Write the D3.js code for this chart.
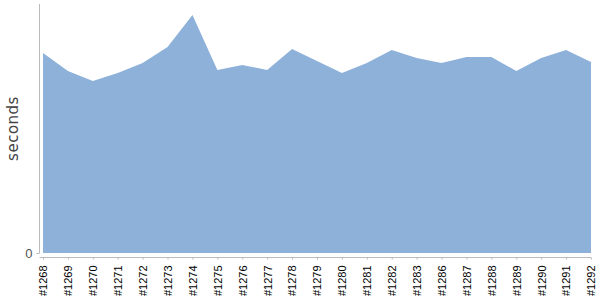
<!DOCTYPE html>
<html>
<head>
<meta charset="utf-8">
<script src="https://cdn.jsdelivr.net/npm/d3@7"></script>
<style>
  body { margin: 0; background: #fff; }
</style>
</head>
<body>
<div id="chart"></div>
<script>
// build labels
const builds = ["#1268", "#1269", "#1270", "#1271", "#1272", "#1273", "#1274", "#1275",
  "#1276", "#1277", "#1278", "#1279", "#1280", "#1281", "#1282", "#1283",
  "#1286", "#1287", "#1288", "#1289", "#1290", "#1291", "#1292"];
// duration per build (seconds)
const seconds = [200, 182, 172, 180, 190, 206, 238, 183, 188, 183, 204, 192,
  180, 190, 203, 195, 190, 196, 196, 182, 195, 203, 191];
const yTicks = [0];

const width = 600, height = 300;
const margin = {top: 4, right: 9, bottom: 47, left: 43};

const svg = d3.select("#chart")
  .append("svg")
  .attr("width", width)
  .attr("height", height);

const x = d3.scalePoint()
  .domain(builds)
  .range([margin.left, width - margin.right]);

const y = d3.scaleLinear()
  .domain([0, 249])
  .range([height - margin.bottom, margin.top]);

// area
const area = d3.area()
  .x((d, i) => x(builds[i]))
  .y0(y(0))
  .y1(d => y(d));

svg.append("path")
  .datum(seconds)
  .attr("fill", "#8eb1da")
  .attr("d", area);

// y axis
const yAxis = svg.append("g")
  .attr("transform", "translate(39.5,0)")
  .call(d3.axisLeft(y).tickValues(yTicks).tickSize(3).tickPadding(4));
yAxis.select(".domain").attr("d", `M0,${margin.top}V${y(0)}`).attr("stroke", "#bbb");
yAxis.selectAll(".tick line").attr("stroke", "#bbb");
yAxis.selectAll("text")
  .attr("fill", "#555")
  .style("font", "13px 'Liberation Sans', Arial, sans-serif");

// x axis
const xAxis = svg.append("g")
  .attr("transform", `translate(0,${y(0) + 4.5})`)
  .call(d3.axisBottom(x).tickSize(2).tickSizeOuter(0));
xAxis.select(".domain").attr("d", `M39.5,0H${width - margin.right}`).attr("stroke", "#bbb");
xAxis.selectAll(".tick line").attr("stroke", "#bbb");
xAxis.selectAll("text")
  .attr("fill", "#000")
  .style("font", "11px 'Liberation Sans', Arial, sans-serif")
  .attr("transform", "rotate(-90)")
  .attr("x", -8)
  .attr("y", 0)
  .attr("dy", "0.35em")
  .style("text-anchor", "end");

// y label
svg.append("text")
  .attr("transform", `translate(18,${(margin.top + y(0)) / 2}) rotate(-90)`)
  .attr("text-anchor", "middle")
  .attr("fill", "#444")
  .style("font", "15px 'DejaVu Sans', sans-serif")
  .style("letter-spacing", "0.5px")
  .text("seconds");
</script>
</body>
</html>
